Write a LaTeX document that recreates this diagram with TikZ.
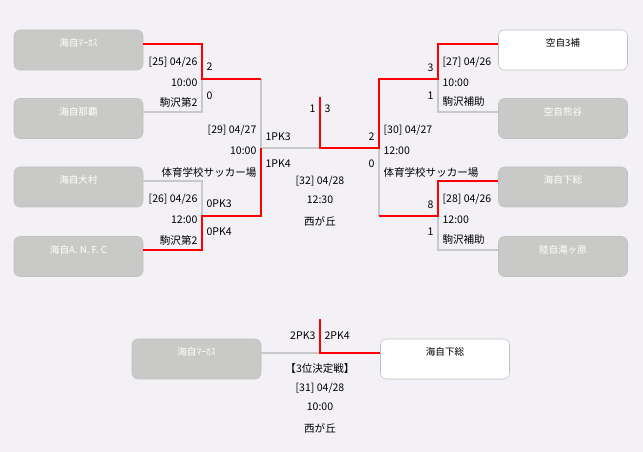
\documentclass[tikz,border=0pt]{standalone}
\usepackage{fontspec}
\setmainfont{Noto Sans CJK JP}
\definecolor{bg}{HTML}{F3F1F5}
\definecolor{boxgray}{HTML}{C9CAC7}
\definecolor{boxline}{HTML}{C0C0C0}
\definecolor{linegray}{HTML}{C8C8C8}
\definecolor{linered}{HTML}{FF0000}
\begin{document}
\begin{tikzpicture}[x=0.75pt, y=-0.75pt,
        every node/.style={font=\fontsize{7.9}{9}\selectfont, inner sep=1pt},
        team/.style={draw=boxline, rounded corners=4.5pt, minimum width=96.75pt, minimum height=30pt,
            inner sep=0pt, text height=6pt, text depth=10.5pt, font=\fontsize{7.2}{8}\selectfont},
        lost/.style={team, fill=boxgray, text=white},
        won/.style={team, fill=white, text=black},
        win/.style={draw=linered, line width=1.5pt},
        lose/.style={draw=linegray, line width=1.5pt}
    ]
    \fill[bg] (0,0) rectangle (643,452);
    \useasboundingbox (0,0) rectangle (643,452);

    % teams
    \node[lost] (L1) at (78.5,50) {海自ﾏｰｶｽ};
    \node[lost] (L2) at (78.5,118.5) {海自那覇};
    \node[lost] (L3) at (78.5,187) {海自大村};
    \node[lost] (L4) at (78.5,256.5) {海自A. N. F. C};
    \node[won] (R1) at (563,50) {空自3補};
    \node[lost] (R2) at (563,118.5) {空自熊谷};
    \node[lost] (R3) at (563,187) {海自下総};
    \node[lost] (R4) at (563,256.5) {陸自滝ヶ原};
    \node[lost] (B1) at (196.5,359) {海自ﾏｰｶｽ};
    \node[won] (B2) at (445,359) {海自下総};

    % junctions
    \coordinate (j25) at (202,79);
    \coordinate (j26) at (202,216);
    \coordinate (j29) at (261,148);
    \coordinate (j27) at (438,79);
    \coordinate (j28) at (438,216);
    \coordinate (j30) at (379,148);
    \coordinate (f) at (320,148);
    \coordinate (ftop) at (320,97);
    \coordinate (b) at (320,353);
    \coordinate (btop) at (320,319);

    % left side
    \draw[lose] ([yshift=4.5pt]L2.east) -| (j25);
    \draw[lose] (j25 -| j29) -- (j29) -- (f);
    \draw[lose] ([yshift=4.5pt]L3.east) -| (j26);
    \draw[win] ([yshift=4.5pt]L1.east) -| (j25) -- (j25 -| j29);
    \draw[win] ([yshift=4.5pt]L4.east) -| (j26) -| (j29);
    % right side
    \draw[lose] ([yshift=4.5pt]R2.west) -| (j27);
    \draw[lose] (j30) -- (j30 |- j28);
    \draw[lose] ([yshift=4.5pt]R4.west) -| (j28);
    \draw[win] ([yshift=4.5pt]R3.west) -| (j28) -- (j30 |- j28);
    \draw[win] ([yshift=4.5pt]R1.west) -| (j27) -| (j30) -- (f) -- (ftop);
    % 3rd place
    \draw[lose] ([yshift=4.5pt]B1.east) -- (b);
    \draw[win] ([yshift=4.5pt]B2.west) -- (b) -- (btop);

    % match 25
    \node[anchor=east] (m25d) at (199,62) {[25] 04/26};
    \node[anchor=east] (m25t) at (199,83) {10:00};
    \node[anchor=east] (m25v) at (199,102) {駒沢第2};
    \node[anchor=west] (s25a) at (205,67) {2};
    \node[anchor=west] (s25b) at (205,96) {0};
    % match 26
    \node[anchor=east] (m26d) at (199,199) {[26] 04/26};
    \node[anchor=east] (m26t) at (199,220) {12:00};
    \node[anchor=east] (m26v) at (199,240) {駒沢第2};
    \node[anchor=west] (s26a) at (205,204) {0PK3};
    \node[anchor=west] (s26b) at (205,232) {0PK4};
    % match 29
    \node[anchor=east] (m29d) at (258,130) {[29] 04/27};
    \node[anchor=east] (m29t) at (258,151) {10:00};
    \node[anchor=east] (m29v) at (258,172) {体育学校サッカー場};
    \node[anchor=west] (s29a) at (264,137) {1PK3};
    \node[anchor=west] (s29b) at (264,164) {1PK4};
    % match 27
    \node[anchor=west] (m27d) at (441,62) {[27] 04/26};
    \node[anchor=west] (m27t) at (441,83) {10:00};
    \node[anchor=west] (m27v) at (441,102) {駒沢補助};
    \node[anchor=east] (s27a) at (435,68) {3};
    \node[anchor=east] (s27b) at (435,96) {1};
    % match 28
    \node[anchor=west] (m28d) at (441,199) {[28] 04/26};
    \node[anchor=west] (m28t) at (441,220) {12:00};
    \node[anchor=west] (m28v) at (441,240) {駒沢補助};
    \node[anchor=east] (s28a) at (435,205) {8};
    \node[anchor=east] (s28b) at (435,232) {1};
    % match 30
    \node[anchor=west] (m30d) at (382,130) {[30] 04/27};
    \node[anchor=west] (m30t) at (382,151) {12:00};
    \node[anchor=west] (m30v) at (382,172) {体育学校サッカー場};
    \node[anchor=east] (s30a) at (376,137) {2};
    \node[anchor=east] (s30b) at (376,164) {0};
    % final
    \node[anchor=east] (s32a) at (317,109) {1};
    \node[anchor=west] (s32b) at (323,109) {3};
    \node (m32d) at (320,181) {[32] 04/28};
    \node (m32t) at (320,200) {12:30};
    \node (m32v) at (320,221) {西が丘};
    % 3rd place
    \node[anchor=east] (s31a) at (317,336) {2PK3};
    \node[anchor=west] (s31b) at (323,336) {2PK4};
    \node (m31n) at (320,368) {【3位決定戦】};
    \node (m31d) at (320,388) {[31] 04/28};
    \node (m31t) at (320,407) {10:00};
    \node (m31v) at (320,428) {西が丘};
\end{tikzpicture}
\end{document}
